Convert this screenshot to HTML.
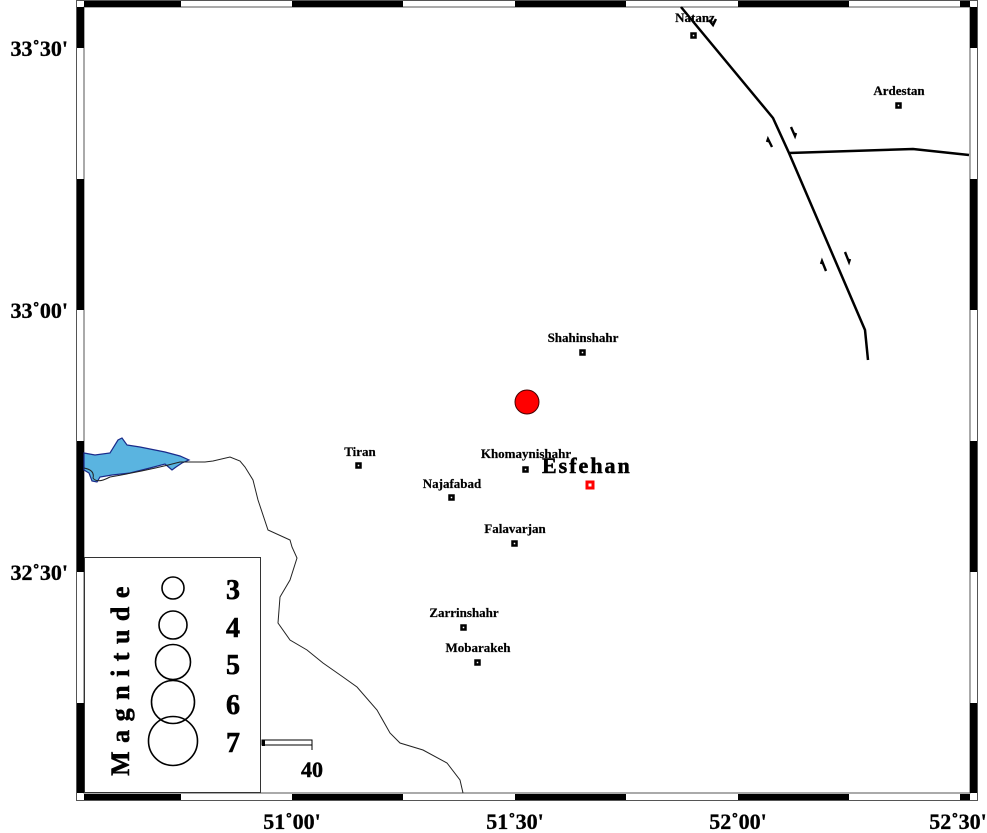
<!DOCTYPE html>
<html><head><meta charset="utf-8"><style>
html,body{margin:0;padding:0;background:#fff;}
svg{display:block;}
text{font-family:"Liberation Serif",serif;font-weight:bold;}
</style></head><body>
<svg width="987" height="833" viewBox="0 0 987 833" xmlns="http://www.w3.org/2000/svg">
<rect x="76.5" y="0.5" width="901" height="800" fill="#fff" stroke="#555" stroke-width="1"/>
<rect x="84" y="7" width="886" height="786" fill="#fff" stroke="#555" stroke-width="1"/>
<g fill="#000">
<rect x="84" y="1" width="97" height="6"/><rect x="292" y="1" width="111" height="6"/><rect x="515" y="1" width="111" height="6"/><rect x="738" y="1" width="111" height="6"/><rect x="960" y="1" width="10" height="6"/>
<rect x="84" y="794" width="97" height="6"/><rect x="292" y="794" width="111" height="6"/><rect x="515" y="794" width="111" height="6"/><rect x="738" y="794" width="111" height="6"/><rect x="960" y="794" width="10" height="6"/>
<rect x="77" y="7" width="7" height="41"/><rect x="77" y="179" width="7" height="131"/><rect x="77" y="441" width="7" height="131"/><rect x="77" y="703" width="7" height="90"/>
<rect x="970" y="7" width="7" height="41"/><rect x="970" y="179" width="7" height="131"/><rect x="970" y="441" width="7" height="131"/><rect x="970" y="703" width="7" height="90"/>
</g>
<g font-size="22" fill="#000" stroke="#000" stroke-width="0.3">
<text x="68" y="56" text-anchor="end">33˚30'</text>
<text x="68" y="318" text-anchor="end">33˚00'</text>
<text x="68" y="580" text-anchor="end">32˚30'</text>
<text x="292" y="829" text-anchor="middle">51˚00'</text>
<text x="515" y="829" text-anchor="middle">51˚30'</text>
<text x="738" y="829" text-anchor="middle">52˚00'</text>
<text x="958" y="829" text-anchor="middle">52˚30'</text>
</g>
<path d="M84,453 L95,455 L110,453 L118,440 L122,438 L127,445 L140,447 L165,452 L180,456 L189,460 L182,463 L176,467 L172,470 L165,464 L150,468 L130,473 L112,475 L100,477 L97,482 L92,481 L89,473 L84,470 Z" fill="#5ab4e0" stroke="#1a2a8a" stroke-width="1.2"/>
<path d="M84,468 Q95,470 93,478 Q97,484 110,477 Q150,470 180,462 L190,462 L205,462 L213,461 L230,457 L240,461 L245,467 L253,480 L258,500 L268,530 L290,540 L292,547 L297,558 L290,580 L280,597 L278,623 L290,640 L307,650 L323,663 L343,677 L357,687 L377,710 L390,733 L400,743 L423,750 L447,763 L460,780 L463,793" fill="none" stroke="#222" stroke-width="1"/>
<g fill="none" stroke="#000" stroke-width="2.5">
<polyline points="681,7 773,118 789,153 865,330 868,360"/>
<polyline points="789,153 913,149 969,155"/>
</g>
<g fill="none" stroke="#000" stroke-width="2.4">
<path d="M772,147 L768,139 L767,142"/>
<path d="M791,127 L795,136 L796,133"/>
<path d="M826,271 L822,261 L821,264"/>
<path d="M845,252 L849,262 L850,259"/>
<path d="M709,20 L713,25 L716,19"/>
</g>
<circle cx="527" cy="402" r="12" fill="#f00" stroke="#400" stroke-width="1"/>
<g fill="#fff" stroke="#000" stroke-width="2.5">
<rect x="691.5" y="33.5" width="4" height="4"/>
<rect x="896.5" y="103.5" width="4" height="4"/>
<rect x="580.5" y="350.5" width="4" height="4"/>
<rect x="356.5" y="463.5" width="4" height="4"/>
<rect x="523.5" y="467.5" width="4" height="4"/>
<rect x="449.5" y="495.5" width="4" height="4"/>
<rect x="512.5" y="541.5" width="4" height="4"/>
<rect x="461.5" y="625.5" width="4" height="4"/>
<rect x="475.5" y="660.5" width="4" height="4"/>
</g>
<rect x="587" y="482" width="6" height="6" fill="#fff" stroke="#f00" stroke-width="3"/>
<g font-size="13" fill="#000" text-anchor="middle" stroke="#000" stroke-width="0.2">
<text x="695" y="22">Natanz</text>
<text x="899" y="95">Ardestan</text>
<text x="583" y="342">Shahinshahr</text>
<text x="360" y="456">Tiran</text>
<text x="526" y="458">Khomaynishahr</text>
<text x="452" y="488">Najafabad</text>
<text x="515" y="533">Falavarjan</text>
<text x="464" y="617">Zarrinshahr</text>
<text x="478" y="652">Mobarakeh</text>
</g>
<text x="542" y="473" font-size="22" letter-spacing="2" fill="#000" stroke="#000" stroke-width="0.5">Esfehan</text>
<rect x="84.5" y="557.5" width="176" height="235" fill="#fff" stroke="#333" stroke-width="1"/>
<text transform="translate(129,677) rotate(-90)" font-size="26" text-anchor="middle" letter-spacing="8.5" fill="#000" stroke="#000" stroke-width="0.5">Magnitude</text>
<g fill="none" stroke="#000" stroke-width="1.6">
<circle cx="173" cy="588" r="11"/>
<circle cx="173" cy="625" r="14"/>
<circle cx="173" cy="662" r="17.5"/>
<circle cx="173" cy="702" r="21.5"/>
<circle cx="173" cy="741" r="24.5"/>
</g>
<g font-size="28" fill="#000" text-anchor="middle" stroke="#000" stroke-width="0.6">
<text x="233" y="599">3</text>
<text x="233" y="637">4</text>
<text x="233" y="674">5</text>
<text x="233" y="714">6</text>
<text x="233" y="752">7</text>
</g>
<rect x="262" y="740" width="50" height="5" fill="#fff" stroke="#000" stroke-width="1"/>
<rect x="262" y="740" width="3" height="6" fill="#000"/>
<line x1="312" y1="740" x2="312" y2="750" stroke="#000" stroke-width="1"/>
<text x="312" y="777" font-size="22" text-anchor="middle" fill="#000" stroke="#000" stroke-width="0.4">40</text>
</svg>
</body></html>
